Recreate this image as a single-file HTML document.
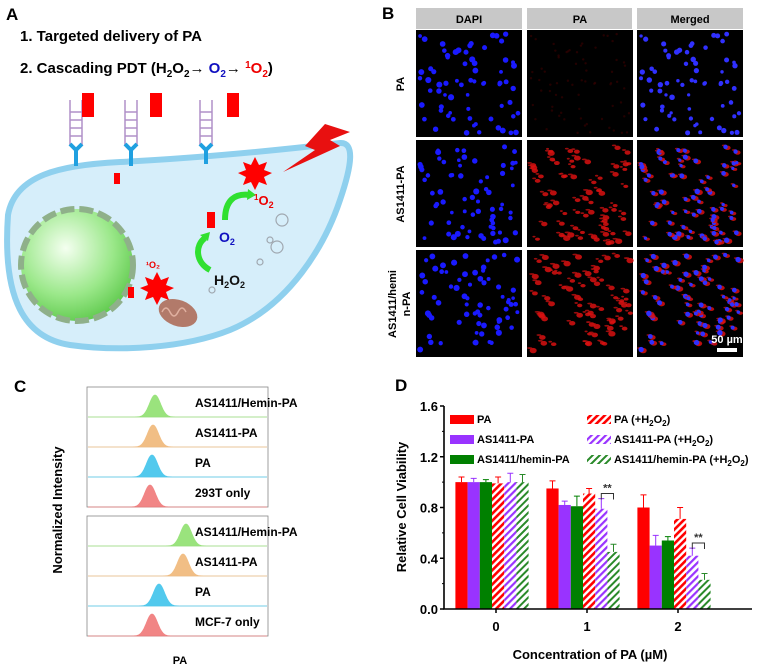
<!DOCTYPE html>
<html><head><meta charset="utf-8"><style>
body{margin:0;background:#fff;width:781px;height:667px;overflow:hidden;font-family:"Liberation Sans",Arial,sans-serif}
svg{position:absolute;left:0;top:0}
text{font-family:"Liberation Sans",Arial,sans-serif}
</style></head><body>
<svg id="root" width="781" height="667" viewBox="0 0 781 667">
<defs>
<pattern id="hR" width="5" height="5" patternUnits="userSpaceOnUse" patternTransform="rotate(45)"><rect width="5" height="5" fill="#fff"/><rect width="2.6" height="5" fill="#f00"/></pattern>
<pattern id="hP" width="5" height="5" patternUnits="userSpaceOnUse" patternTransform="rotate(45)"><rect width="5" height="5" fill="#fff"/><rect width="2.2" height="5" fill="#9933ff"/></pattern>
<pattern id="hG" width="5" height="5" patternUnits="userSpaceOnUse" patternTransform="rotate(45)"><rect width="5" height="5" fill="#fff"/><rect width="2" height="5" fill="#2a8a2a"/></pattern>
<radialGradient id="nuc" cx="0.4" cy="0.35" r="0.7"><stop offset="0" stop-color="#f4fff0"/><stop offset="0.6" stop-color="#9be88a"/><stop offset="1" stop-color="#5cc84a"/></radialGradient>
</defs>

<!-- Panel A -->
<g>
<text x="6" y="20" font-size="17" font-weight="bold">A</text>
<text x="20" y="41" font-size="15" font-weight="bold">1.  Targeted delivery of PA</text>
<text x="20" y="73" font-size="15" font-weight="bold">2.  Cascading PDT (H<tspan font-size="10" dy="4">2</tspan><tspan dy="-4">O</tspan><tspan font-size="10" dy="4">2</tspan><tspan dy="-4">→ </tspan><tspan fill="#1010c0">O</tspan><tspan fill="#1010c0" font-size="10" dy="4">2</tspan><tspan dy="-4">→ </tspan><tspan fill="#e00" font-size="10" dy="-5">1</tspan><tspan fill="#e00" dy="5">O</tspan><tspan fill="#e00" font-size="10" dy="4">2</tspan><tspan dy="-4">)</tspan></text>
<path d="M8,215 C15,175 60,165 120,162 C200,158 280,150 340,143 C355,142 352,165 340,200 C325,245 290,305 230,330 C185,348 120,352 70,345 C25,338 2,300 8,215 Z" fill="#d6eefa" stroke="#8fd0ee" stroke-width="6"/>
<circle cx="77" cy="265" r="56" fill="url(#nuc)"/>
<circle cx="77" cy="265" r="56" fill="none" stroke="#8fb08a" stroke-width="6" stroke-dasharray="14 5"/>
<ellipse cx="178" cy="313" rx="20" ry="13" fill="#b27a6a" transform="rotate(20 178 313)"/>
<path d="M162,312 q4,-8 8,0 q4,8 8,0 q4,-8 8,0" stroke="#e0b0a0" fill="none" stroke-width="1.5"/>
<g fill="none">
<g transform="translate(70,0)"><path d="M0,100 v45 M12,100 v45 M0,112h12M0,120h12M0,128h12M0,136h12" stroke="#b090c8" stroke-width="1.5"/><path d="M6,148 v18 M6,150 l-6,-6 M6,150 l6,-6" stroke="#20a0e0" stroke-width="4"/><rect x="12" y="93" width="12" height="24" fill="#f00"/></g>
<g transform="translate(125,0)"><path d="M0,100 v45 M12,100 v45 M0,112h12M0,120h12M0,128h12M0,136h12" stroke="#b090c8" stroke-width="1.5"/><path d="M6,148 v18 M6,150 l-6,-6 M6,150 l6,-6" stroke="#20a0e0" stroke-width="4"/><rect x="25" y="93" width="12" height="24" fill="#f00"/></g>
<g transform="translate(200,0)"><path d="M0,100 v45 M12,100 v45 M0,112h12M0,120h12M0,128h12M0,136h12" stroke="#b090c8" stroke-width="1.5"/><path d="M6,148 v16 M6,150 l-6,-6 M6,150 l6,-6" stroke="#20a0e0" stroke-width="4"/><rect x="27" y="93" width="12" height="24" fill="#f00"/></g>
</g>
<rect x="114" y="173" width="6" height="11" fill="#f00"/><rect x="128" y="287" width="6" height="11" fill="#f00"/><rect x="207" y="212" width="8" height="16" fill="#f00"/>
<path d="M325,124 L350,132 L330,140 L340,146 L283,172 L315,150 L305,146 L325,124 Z" fill="#e81010"/>
<path d="M255,157 l4,8 8,-3 -3,8 8,3 -8,4 3,8 -8,-3 -4,8 -4,-8 -8,3 3,-8 -8,-4 8,-3 -3,-8 8,3z" fill="#f00"/>
<path d="M157,272 l4,8 8,-3 -3,8 8,3 -8,4 3,8 -8,-3 -4,8 -4,-8 -8,3 3,-8 -8,-4 8,-3 -3,-8 8,3z" fill="#f00"/>
<path d="M225,220 C225,200 235,193 250,195" stroke="#30e030" stroke-width="6" fill="none"/><path d="M248,189 l8,6 -9,5z" fill="#30e030"/>
<path d="M210,270 C195,262 195,245 205,238" stroke="#30e030" stroke-width="6" fill="none"/><path d="M200,235 l10,-3 -2,9z" fill="#30e030"/>
<text x="254" y="205" font-size="13" font-weight="bold" fill="#e00"><tspan font-size="8" dy="-5">1</tspan><tspan dy="5">O</tspan><tspan font-size="9" dy="3">2</tspan></text>
<text x="219" y="242" font-size="14" font-weight="bold" fill="#1010c0">O<tspan font-size="9" dy="3">2</tspan></text>
<text x="214" y="285" font-size="14" font-weight="bold" fill="#111">H<tspan font-size="9" dy="3">2</tspan><tspan dy="-3">O</tspan><tspan font-size="9" dy="3">2</tspan></text>
<text x="146" y="268" font-size="9" font-weight="bold" fill="#e00">¹O₂</text>
<g fill="none" stroke="#a0a8b0" stroke-width="1.2"><circle cx="282" cy="220" r="6"/><circle cx="277" cy="247" r="6"/><circle cx="270" cy="240" r="3"/><circle cx="260" cy="262" r="3"/><circle cx="212" cy="290" r="3"/></g>
</g>

<!-- Panel B -->
<g id="panelB">
<text x="382" y="19" font-size="17" font-weight="bold">B</text>
<rect x="416" y="8" width="106" height="21" fill="#c8c8c8"/>
<rect x="527" y="8" width="105" height="21" fill="#c8c8c8"/>
<rect x="637" y="8" width="106" height="21" fill="#c8c8c8"/>
<text x="469" y="23" font-size="11" font-weight="bold" text-anchor="middle">DAPI</text>
<text x="580" y="23" font-size="11" font-weight="bold" text-anchor="middle">PA</text>
<text x="690" y="23" font-size="11" font-weight="bold" text-anchor="middle">Merged</text>
<text transform="translate(404,84) rotate(-90)" font-size="11" font-weight="bold" text-anchor="middle">PA</text>
<text transform="translate(404,194) rotate(-90)" font-size="11" font-weight="bold" text-anchor="middle">AS1411-PA</text>
<text transform="translate(396,304) rotate(-90)" font-size="11" font-weight="bold" text-anchor="middle">AS1411/hemi</text>
<text transform="translate(410,304) rotate(-90)" font-size="11" font-weight="bold" text-anchor="middle">n-PA</text>
</g>

<!-- Panel C -->
<g id="panelC">
<text x="14" y="392" font-size="17" font-weight="bold">C</text>
<rect x="87" y="387" width="181" height="120" fill="#fff" stroke="#888" stroke-width="0.8"/>
<rect x="87" y="516" width="181" height="120" fill="#fff" stroke="#888" stroke-width="0.8"/>
<text transform="translate(62,510) rotate(-90)" font-size="13" font-weight="bold" text-anchor="middle">Normalized Intensity</text>
<text x="180" y="664" font-size="11" font-weight="bold" text-anchor="middle">PA</text>
</g>

<!-- Panel D -->
<g id="panelD">
<text x="395" y="391" font-size="17" font-weight="bold">D</text>
</g>
</svg>
<script>
var NS='http://www.w3.org/2000/svg';
var root=document.getElementById('root');
function mk(tag,attrs,parent){var e=document.createElementNS(NS,tag);for(var k in attrs)e.setAttribute(k,attrs[k]);(parent||root).appendChild(e);return e;}

/* ---- Panel B microscopy (texture) ---- */
var seed=7;function rnd(){seed=(seed*16807)%2147483647;return seed/2147483647;}
var colsX=[416,527,637],rowsY=[30,140,250];
var pB=document.getElementById('panelB');
for(var r=0;r<3;r++){for(var c=0;c<3;c++){
 var im=mk('rect',{x:colsX[c],y:rowsY[r],width:106,height:107,fill:'#000'},pB);
 
 
}
 seed=11+r*97;
 for(var i=0;i<70;i++){
  var x=4+rnd()*98,y=4+rnd()*99,rr=1.8+rnd()*1.3;
  if(r>0){for(var c2=1;c2<3;c2++){
   mk('ellipse',{cx:colsX[c2]+x+2,cy:rowsY[r]+y+1,rx:rr+0.6,ry:rr-0.3,fill:'#d81010',opacity:0.85},pB);
   mk('ellipse',{cx:colsX[c2]+x-1.5,cy:rowsY[r]+y-1.5,rx:rr-0.3,ry:0.9,fill:'#c01010',opacity:0.8},pB);}}
  else {mk('circle',{cx:colsX[1]+x,cy:rowsY[r]+y,r:1.2,fill:'#300',opacity:0.7},pB);}
  mk('circle',{cx:colsX[0]+x,cy:rowsY[r]+y,r:rr,fill:'#1a1aff'},pB);
  mk('circle',{cx:colsX[2]+x,cy:rowsY[r]+y,r:rr*0.9,fill:'#3030ff'},pB);
 }
}
var sb=mk('rect',{x:717,y:348,width:20,height:4,fill:'#fff'},pB);


var sbt=mk('text',{x:727,y:343,'font-size':11,'font-weight':'bold',fill:'#fff','text-anchor':'middle'},pB);sbt.textContent='50 µm';

/* ---- Panel C histograms ---- */
var cLabelsTop=['AS1411/Hemin-PA','AS1411-PA','PA','293T only'];
var cLabelsBot=['AS1411/Hemin-PA','AS1411-PA','PA','MCF-7 only'];
var cPeakTop=[155,153,152,150];
var cPeakBot=[186,183,159,152];
var cColors=['#90e070','#f0b878','#40c4ec','#f07878'];
var pC=document.getElementById('panelC');
function drawBox(y0,peaks,labels,tag){
 for(var i=0;i<4;i++){
  var base=y0+30*(i+1);
  if(i<3){mk('line',{x1:88,x2:267,y1:base,y2:base,stroke:'#ddd','stroke-width':1},pC);}
  var d='M88,'+base;
  for(var x=88;x<=267;x+=1){var g=Math.exp(-Math.pow((x-peaks[i])/5.5,2)/2);d+=' L'+x+','+(base-22*g).toFixed(1);}
  d+=' L267,'+base+' Z';
  var p=mk('path',{d:d,fill:cColors[i],stroke:cColors[i],'stroke-width':0.8,opacity:0.9},pC);
  
  
  var t=mk('text',{x:195,y:base-10,'font-size':12,'font-weight':'bold'},pC);t.textContent=labels[i];
  
  
 }
}
drawBox(387,cPeakTop,cLabelsTop,'293t');
drawBox(516,cPeakBot,cLabelsBot,'mcf7');

/* ---- Panel D bar chart ---- */
var dCategories=['0','1','2'];
var dSeriesNames=['PA','AS1411-PA','AS1411/hemin-PA','PA (+H2O2)','AS1411-PA (+H2O2)','AS1411/hemin-PA (+H2O2)'];
var dPA=[1.00,0.95,0.80];
var dAS=[1.00,0.82,0.50];
var dHem=[1.00,0.81,0.54];
var dPAH=[0.99,0.91,0.71];
var dASH=[1.00,0.79,0.42];
var dHemH=[1.00,0.45,0.23];
var dErrPA=[0.04,0.06,0.10];
var dErrAS=[0.03,0.03,0.08];
var dErrHem=[0.02,0.08,0.03];
var dErrPAH=[0.05,0.04,0.09];
var dErrASH=[0.07,0.08,0.06];
var dErrHemH=[0.06,0.06,0.05];
var dYTicks=[0.0,0.4,0.8,1.2,1.6];
var dYTickLabels=['0.0','0.4','0.8','1.2','1.6'];

var pD=document.getElementById('panelD');
var X0=444,X1=752,Y0=609,Ytop=406,YMAX=1.6;
function ys(v){return Y0-(v/YMAX)*(Y0-Ytop);}
var groupW=91;
function xg(i){return X0+48+groupW*i;}
var barW=12.2;
var series=[dPA,dAS,dHem,dPAH,dASH,dHemH];
var errs=[dErrPA,dErrAS,dErrHem,dErrPAH,dErrASH,dErrHemH];
var fills=['#f00','#9933ff','#008000','url(#hR)','url(#hP)','url(#hG)'];
var ecol=['#f00','#9933ff','#008000','#f00','#9933ff','#2a8a2a'];
for(var s=0;s<6;s++){for(var g=0;g<3;g++){
 var x=xg(g)-3*barW+s*barW,v=series[s][g];
 var b=mk('rect',{x:x,y:ys(v),width:barW,height:Y0-ys(v),fill:fills[s]},pD);
 
 
 var cx=x+barW/2,ey=ys(v+errs[s][g]);
 mk('path',{d:'M'+cx+','+ys(v)+' V'+ey+' M'+(cx-3)+','+ey+' H'+(cx+3),stroke:ecol[s],'stroke-width':1,fill:'none'},pD);
}}
function bracket(g){
 var xa=xg(g)+1.5*barW,xb=xg(g)+2.5*barW,top=Math.max(dASH[g]+dErrASH[g],dHemH[g]+dErrHemH[g])+0.04;
 var yy=ys(top);
 var br=mk('path',{d:'M'+xa+','+(yy+6)+' V'+yy+' H'+xb+' V'+(yy+6),stroke:'#333','stroke-width':1,fill:'none'},pD);
 
 
 var t=mk('text',{x:(xa+xb)/2,y:yy-2,'font-size':11,'font-weight':'bold','text-anchor':'middle',fill:'#333'},pD);t.textContent='**';
}
bracket(1);bracket(2);
var ax=mk('path',{d:'M'+X0+','+Ytop+' V'+Y0+' H'+X1,stroke:'#000','stroke-width':1.6,fill:'none'},pD);


for(var i=0;i<dYTicks.length;i++){
 var y=ys(dYTicks[i]);
 mk('line',{x1:X0-4,x2:X0,y1:y,y2:y,stroke:'#000','stroke-width':1.5},pD);
 if(i<dYTicks.length-1){var ym=ys(dYTicks[i]+0.2);mk('line',{x1:X0-2,x2:X0,y1:ym,y2:ym,stroke:'#000','stroke-width':1},pD);}
 var t=mk('text',{x:X0-6,y:y+5,'font-size':13,'font-weight':'bold','text-anchor':'end'},pD);t.textContent=dYTickLabels[i];
 
 
}
for(var g=0;g<3;g++){
 var x=xg(g)+4;
 mk('line',{x1:x,x2:x,y1:Y0,y2:Y0+4,stroke:'#000','stroke-width':1.5},pD);
 var t=mk('text',{x:xg(g)+4,y:Y0+22,'font-size':13,'font-weight':'bold','text-anchor':'middle'},pD);t.textContent=dCategories[g];
 
 
}
var yt=mk('text',{transform:'translate(406,507) rotate(-90)','font-size':13,'font-weight':'bold','text-anchor':'middle'},pD);yt.textContent='Relative Cell Viability';


var xt=mk('text',{x:590,y:659,'font-size':13,'font-weight':'bold','text-anchor':'middle'},pD);xt.textContent='Concentration of PA (µM)';


var lgX=[450,587],lgY=[419,439,459];
for(var s=0;s<6;s++){
 var col=s<3?0:1,row=s%3;
 var sw=mk('rect',{x:lgX[col],y:lgY[row]-4,width:24,height:9,fill:fills[s]},pD);
 
 
 var t=mk('text',{x:lgX[col]+27,y:lgY[row]+4,'font-size':11,'font-weight':'bold'},pD);
 
 
 var nm=dSeriesNames[s];
 if(nm.indexOf('H2O2')>=0){var base=nm.replace(' (+H2O2)','');t.textContent=base+(s==4?'  ':' ')+'(+H';
  var a=document.createElementNS(NS,'tspan');a.setAttribute('font-size','8');a.setAttribute('dy','3');a.textContent='2';t.appendChild(a);
  var b2=document.createElementNS(NS,'tspan');b2.setAttribute('dy','-3');b2.textContent='O';t.appendChild(b2);
  var c3=document.createElementNS(NS,'tspan');c3.setAttribute('font-size','8');c3.setAttribute('dy','3');c3.textContent='2';t.appendChild(c3);
  var d4=document.createElementNS(NS,'tspan');d4.setAttribute('dy','-3');d4.textContent=')';t.appendChild(d4);
 } else t.textContent=nm;
}
</script>
</body></html>
